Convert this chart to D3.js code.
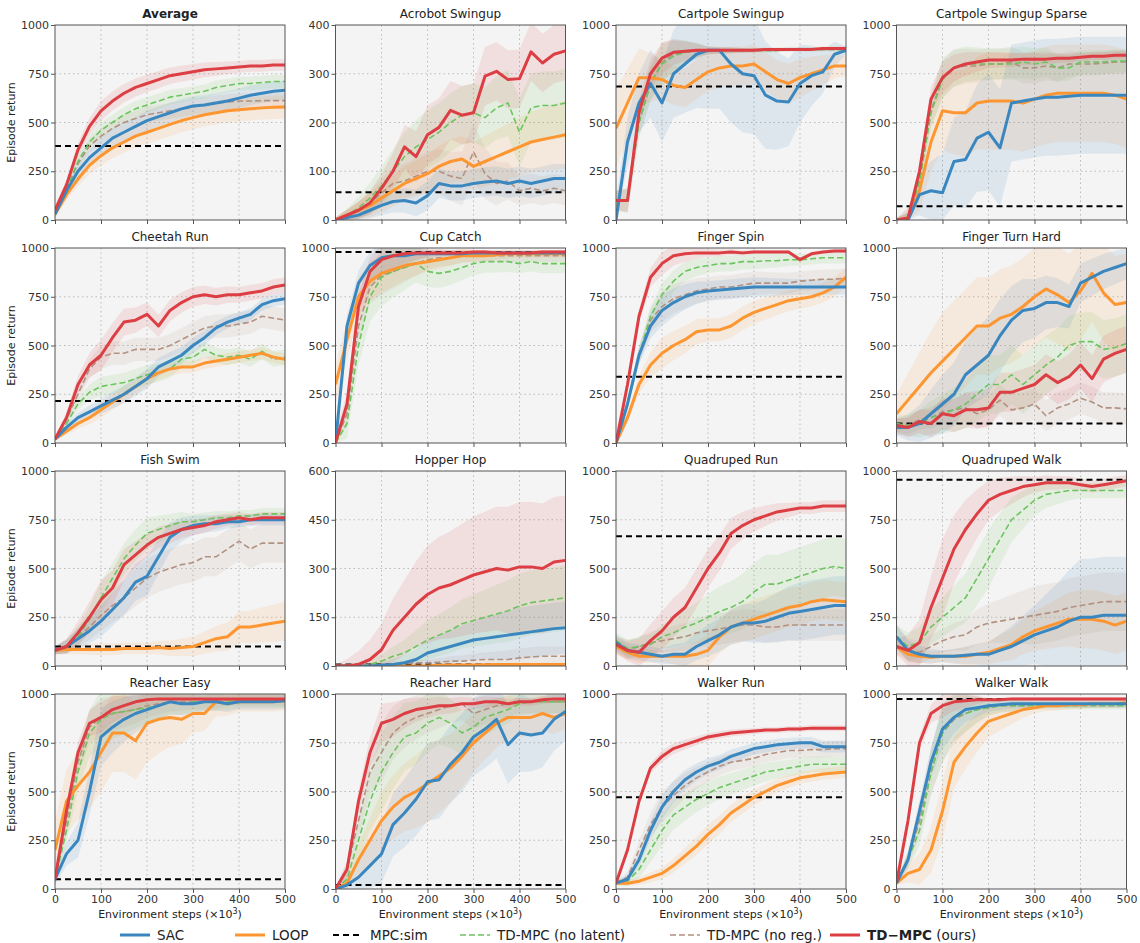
<!DOCTYPE html>
<html><head><meta charset="utf-8">
<script src="https://cdn.jsdelivr.net/npm/d3@7"></script>
<style>body{margin:0;background:#fff;font-family:"DejaVu Sans",sans-serif;}</style>
</head><body><svg id="chart" width="1140" height="943"></svg>
<script>
// x positions (x10^3 steps)
const steps = d3.range(0, 501, 25);
const spreadSteps = [0, 100, 200, 300, 400, 500];

const titles = ["Average","Acrobot Swingup","Cartpole Swingup","Cartpole Swingup Sparse",
  "Cheetah Run","Cup Catch","Finger Spin","Finger Turn Hard",
  "Fish Swim","Hopper Hop","Quadruped Run","Quadruped Walk",
  "Reacher Easy","Reacher Hard","Walker Run","Walker Walk"];
const yMax = [1000,400,1000,1000, 1000,1000,1000,1000, 1000,600,1000,1000, 1000,1000,1000,1000];
const yStep = [250,100,250,250, 250,250,250,250, 250,150,250,250, 250,250,250,250];
const mpcSim = [380,57,685,70, 215,980,340,100, 100,5,665,955, 50,20,470,975];

const seriesNames = ["SAC","LOOP","TD-MPC (no latent)","TD-MPC (no reg.)","TD-MPC"];

// mean curves, per panel: [SAC, LOOP, noLatent, noReg, TD-MPC]
const sac = [
 [30,150,250,320,370,420,450,480,510,530,550,570,585,590,600,610,625,640,650,660,665],
 [0,5,10,20,30,38,40,35,50,75,70,70,75,78,80,75,80,75,80,85,85],
 [0,400,600,700,600,750,800,850,870,870,800,750,740,640,610,605,700,740,760,850,870],
 [0,0,130,150,140,300,310,420,450,370,600,610,620,630,630,635,640,640,640,640,640],
 [20,80,130,160,190,220,250,290,330,390,420,450,500,540,590,620,640,660,710,730,740],
 [0,600,820,910,950,960,960,970,970,970,970,970,975,975,975,975,975,975,975,975,975],
 [0,200,450,600,680,720,750,770,780,785,790,795,800,800,800,800,800,800,800,800,800],
 [80,80,100,150,200,250,350,400,450,550,630,680,690,720,720,700,820,850,880,900,920],
 [80,100,140,180,230,290,350,430,460,560,660,700,720,730,730,740,740,750,750,750,750],
 [0,0,0,0,2,5,10,20,40,50,60,70,80,85,90,95,100,105,110,115,118],
 [120,80,70,60,50,60,60,100,130,160,200,220,220,230,250,270,280,290,300,310,310],
 [150,80,60,50,50,50,55,60,60,80,100,130,160,180,200,230,250,250,260,260,260],
 [50,180,250,500,780,830,870,900,920,940,960,950,950,960,960,950,960,960,960,960,965],
 [0,20,60,120,180,330,390,460,550,560,640,700,780,820,870,740,800,790,800,870,910],
 [30,50,150,300,420,500,560,600,630,650,680,700,720,730,740,745,750,750,730,730,730],
 [30,150,400,650,820,880,920,930,940,945,950,950,950,950,950,950,950,950,950,950,950]];
const loop = [
 [30,130,210,280,330,370,400,430,450,470,490,510,525,540,550,560,565,570,575,578,580],
 [0,10,20,30,45,60,75,85,95,110,120,125,110,120,130,140,150,160,165,170,175],
 [470,600,730,730,720,690,680,720,760,780,790,790,800,760,720,700,730,750,770,790,790],
 [0,10,150,400,560,550,550,600,610,610,610,600,620,640,650,650,650,650,650,640,620],
 [20,60,100,130,170,210,250,290,330,360,380,390,390,410,420,430,440,450,460,440,430],
 [300,530,750,830,870,890,910,920,930,940,950,960,960,960,965,970,970,970,970,970,970],
 [0,130,300,400,460,500,530,570,580,580,600,640,670,690,710,730,740,750,770,800,850],
 [150,220,290,360,420,480,540,600,600,640,660,700,750,790,760,720,780,870,770,710,720],
 [80,85,85,85,85,85,90,90,90,95,90,95,100,120,140,150,200,200,210,220,230],
 [0,0,0,0,0,0,0,0,0,2,3,3,3,4,5,5,5,5,5,5,5],
 [100,70,50,50,50,50,50,60,80,150,200,220,240,260,280,300,310,330,340,335,330],
 [100,60,50,45,50,50,50,60,70,90,110,150,180,200,220,240,240,240,230,210,230],
 [200,450,530,600,700,800,800,760,850,870,880,870,900,900,960,950,960,960,960,960,965],
 [0,30,150,250,350,420,470,500,540,580,620,680,750,800,850,880,880,880,900,880,900],
 [30,30,40,60,80,120,170,220,280,330,390,430,470,500,530,550,570,580,590,595,600],
 [30,80,100,200,400,650,730,800,860,880,900,920,930,940,940,945,945,950,950,950,955]];
const noLatent = [
 [30,160,300,400,460,500,540,570,590,610,630,640,650,660,680,690,700,700,705,710,710],
 [0,10,25,45,70,100,130,150,165,180,200,215,220,210,230,240,180,230,235,235,240],
 [100,100,500,700,800,840,860,870,870,870,870,870,870,870,870,875,875,875,875,875,875],
 [0,5,200,550,720,780,800,800,800,800,800,810,800,810,780,780,810,810,810,815,815],
 [20,100,200,260,290,300,310,330,350,360,380,430,440,480,450,440,450,430,470,430,440],
 [0,100,500,750,850,880,900,920,880,870,880,900,920,930,930,930,920,930,920,920,920],
 [0,200,450,650,760,830,880,900,910,920,920,930,930,935,935,940,940,945,950,950,950],
 [100,90,100,130,150,170,200,250,300,300,350,300,350,400,440,500,520,520,480,490,510],
 [80,100,150,240,350,450,550,620,680,700,720,740,740,750,760,760,770,770,780,780,780],
 [0,0,0,5,15,30,40,60,80,95,110,130,140,150,160,170,185,195,200,205,210],
 [130,90,100,110,150,170,200,220,250,280,300,330,380,420,420,440,460,480,500,510,500],
 [150,100,120,200,250,300,350,450,550,650,750,800,850,880,890,900,900,900,900,900,900],
 [50,300,600,800,870,900,910,920,930,940,960,950,960,960,960,960,970,970,970,970,970],
 [0,50,250,450,600,700,780,800,850,880,850,800,830,880,900,920,950,960,960,960,960],
 [30,40,100,200,300,380,420,460,490,520,540,560,580,600,610,620,630,640,640,640,640],
 [30,150,300,600,800,880,900,920,930,940,940,940,940,940,940,940,940,940,940,940,940]];
const noReg = [
 [30,160,290,380,430,470,500,520,540,550,560,570,580,590,600,605,610,610,612,612,612],
 [0,10,20,35,55,75,80,90,100,100,90,85,140,95,75,80,60,65,60,65,60],
 [100,100,500,700,810,850,860,865,870,870,870,870,870,870,870,875,875,875,875,875,875],
 [0,5,200,560,730,780,790,790,800,800,810,780,780,790,780,800,800,800,805,810,810],
 [20,120,250,380,440,460,460,480,480,480,500,530,560,590,600,600,610,620,650,640,630],
 [0,150,600,800,860,880,900,920,940,950,950,960,960,960,960,960,960,960,960,960,960],
 [0,200,450,630,700,740,760,780,790,800,800,810,820,820,820,820,830,835,840,840,845],
 [80,90,120,130,160,170,180,150,170,220,170,180,200,140,180,200,230,210,180,180,175],
 [80,100,150,200,260,310,350,400,450,480,500,520,530,560,560,600,640,600,630,630,630],
 [0,0,0,2,5,5,8,10,10,12,15,15,18,20,20,20,25,28,30,30,30],
 [100,80,100,120,130,140,150,170,180,190,200,210,210,200,200,210,210,210,210,210,210],
 [150,80,70,100,130,150,160,200,220,230,240,250,260,270,280,300,310,320,330,330,330],
 [50,350,650,830,880,900,910,920,940,950,960,960,960,960,960,970,970,970,970,970,970],
 [0,100,350,600,700,800,850,880,900,920,940,950,900,920,940,950,960,960,960,960,960],
 [30,60,200,330,420,480,530,570,600,630,650,660,670,690,700,710,710,715,715,720,720],
 [30,150,350,600,800,870,900,920,930,940,940,940,945,950,950,950,950,950,950,950,950]];
const tdmpc = [
 [50,180,360,480,560,610,650,680,700,720,740,750,760,770,775,780,785,790,790,795,795],
 [0,10,20,35,65,100,150,130,175,190,225,215,220,295,305,288,290,345,322,340,347],
 [100,100,550,750,830,860,865,870,870,870,870,870,870,875,875,875,875,875,880,880,880],
 [0,10,250,620,730,780,800,810,820,820,820,825,825,825,830,830,835,840,840,845,845],
 [20,130,300,400,450,540,620,630,660,600,680,720,750,760,750,760,760,770,780,800,810],
 [0,200,700,880,940,960,970,975,975,975,975,975,980,980,975,975,975,975,980,980,980],
 [0,300,650,850,920,960,970,975,975,975,980,975,980,980,980,980,940,970,980,985,985],
 [90,80,110,100,150,140,170,170,180,260,260,280,300,350,310,340,400,330,430,460,480],
 [80,100,170,250,340,400,520,570,620,660,680,700,710,720,740,750,760,750,760,760,760],
 [0,0,5,20,50,110,150,190,220,240,250,265,280,290,300,295,305,305,300,320,325],
 [110,80,70,130,180,250,300,400,500,580,680,720,750,770,790,800,810,810,820,820,820],
 [100,80,120,300,450,600,700,780,850,880,900,920,930,940,940,940,930,920,930,940,950],
 [50,400,700,850,880,920,940,960,970,975,975,975,975,975,975,975,975,975,975,975,975],
 [0,100,450,700,850,870,900,920,930,940,940,950,950,960,960,950,960,960,970,975,975],
 [30,200,450,620,680,720,740,760,780,790,800,805,810,815,815,820,820,825,825,825,825],
 [30,350,750,900,940,960,965,970,970,970,975,975,975,975,975,975,975,975,975,975,975]];

// band half-widths at 0,100,...,500 per panel: [SAC, LOOP, noLatent, noReg, TD-MPC]
const spreads = [
 [[20,50,50,50,50,50],[20,50,60,60,60,60],[20,40,40,35,35,35],[20,40,40,40,40,40],[20,50,45,40,30,30]],
 [[5,20,30,30,30,30],[5,30,40,50,60,70],[5,40,60,60,70,70],[5,30,40,60,30,30],[5,30,60,60,60,60]],
 [[100,200,300,300,200,20],[200,100,100,100,100,50],[50,100,20,10,10,10],[50,100,20,10,10,10],[50,80,20,10,10,10]],
 [[10,200,300,300,300,300],[10,200,250,250,250,250],[10,100,80,80,60,60],[10,100,80,80,60,60],[10,80,40,30,20,20]],
 [[10,40,50,40,30,30],[10,40,40,30,30,30],[10,50,50,40,40,40],[10,60,60,60,60,60],[10,80,60,50,40,40]],
 [[50,80,20,10,10,10],[100,100,50,30,20,20],[50,150,80,60,50,50],[50,100,50,30,30,30],[50,80,20,10,10,10]],
 [[10,80,50,50,40,40],[10,80,60,60,50,50],[10,60,40,40,30,30],[10,80,60,60,50,50],[10,60,20,10,10,10]],
 [[40,150,200,150,100,80],[100,250,250,250,250,250],[40,100,150,150,150,150],[40,60,80,80,80,80],[40,80,100,100,120,120]],
 [[20,80,100,50,30,30],[20,30,30,50,80,100],[20,80,80,40,30,30],[20,80,100,100,100,100],[20,100,60,40,30,30]],
 [[2,10,40,60,80,80],[2,2,3,5,5,5],[2,20,60,80,100,100],[2,5,10,20,30,30],[2,80,150,180,200,200]],
 [[40,40,80,100,150,150],[40,30,80,100,100,100],[40,60,120,150,150,150],[40,60,80,80,80,80],[40,100,100,60,30,30]],
 [[60,30,60,150,300,300],[40,30,60,100,150,150],[60,100,150,80,40,40],[60,60,100,150,150,150],[40,200,100,40,30,30]],
 [[30,150,80,50,40,40],[150,200,200,100,50,50],[30,150,80,50,40,40],[30,100,60,40,30,30],[30,80,30,20,20,20]],
 [[10,150,200,200,200,150],[10,150,200,150,100,80],[10,200,150,100,60,60],[10,150,100,80,60,60],[10,100,50,30,20,20]],
 [[10,60,40,30,30,30],[10,30,50,40,30,30],[10,80,60,50,40,40],[10,80,50,40,40,40],[10,30,20,15,15,15]],
 [[10,100,30,20,20,20],[10,150,80,30,20,20],[10,150,40,20,20,20],[10,150,40,20,20,20],[10,60,10,10,10,10]]];

const allSeries = [sac, loop, noLatent, noReg, tdmpc];
const colors = ["#3a87c0","#fd9630","#6cc45e","#b39180","#dc3e44"];
const widths = [3, 3, 1.6, 1.6, 3];
const dashes = [null, null, "6,3", "6,3", null];
const drawOrder = [3, 2, 1, 0, 4];

const svg = d3.select("#chart");
const lefts = [55, 335.5, 616, 896.5], tops = [25, 248, 471, 694];
const W = 230, H = 195;

titles.forEach((title, p) => {
  const col = p % 4, row = Math.floor(p / 4);
  const g = svg.append("g").attr("transform", `translate(${lefts[col]},${tops[row]})`);
  const x = d3.scaleLinear().domain([0, 500]).range([0, W]);
  const y = d3.scaleLinear().domain([0, yMax[p]]).range([H, 0]);
  const yTicks = d3.range(0, yMax[p] + 1, yStep[p]);

  g.append("rect").attr("width", W).attr("height", H).attr("fill", "#f4f4f4");
  g.selectAll(".gx").data([100,200,300,400]).join("line")
    .attr("x1", d => x(d)).attr("x2", d => x(d)).attr("y1", 0).attr("y2", H)
    .attr("stroke", "#bbb").attr("stroke-dasharray", "1.5,3");
  g.selectAll(".gy").data(yTicks.slice(1, -1)).join("line")
    .attr("y1", d => y(d)).attr("y2", d => y(d)).attr("x1", 0).attr("x2", W)
    .attr("stroke", "#bbb").attr("stroke-dasharray", "1.5,3");

  const clip = "clip" + p;
  g.append("clipPath").attr("id", clip).append("rect").attr("width", W).attr("height", H);
  const plot = g.append("g").attr("clip-path", `url(#${clip})`);

  // bands
  drawOrder.forEach(s => {
    const sp = d3.scaleLinear().domain(spreadSteps).range(spreads[p][s]);
    const vals = allSeries[s][p];
    const area = d3.area().x((d, i) => x(steps[i]))
      .y0((d, i) => y(Math.max(0, d - sp(steps[i]))))
      .y1((d, i) => y(d + sp(steps[i])));
    plot.append("path").attr("d", area(vals)).attr("fill", colors[s]).attr("opacity", 0.12);
  });
  // mpc
  plot.append("line").attr("x1", 0).attr("x2", W).attr("y1", y(mpcSim[p])).attr("y2", y(mpcSim[p]))
    .attr("stroke", "#000").attr("stroke-width", 2).attr("stroke-dasharray", "6,4");
  // lines
  drawOrder.forEach(s => {
    const line = d3.line().x((d, i) => x(steps[i])).y(d => y(d));
    plot.append("path").attr("d", line(allSeries[s][p])).attr("fill", "none")
      .attr("stroke", colors[s]).attr("stroke-width", widths[s])
      .attr("stroke-dasharray", dashes[s]).attr("stroke-linejoin", "round");
  });

  g.append("rect").attr("width", W).attr("height", H).attr("fill", "none").attr("stroke", "#555").attr("stroke-width", 1);

  const ya = g.append("g").call(d3.axisLeft(y).tickValues(yTicks).tickSize(4).tickPadding(2).tickFormat(d3.format("d")));
  const xa = g.append("g").attr("transform", `translate(0,${H})`)
    .call(d3.axisBottom(x).tickValues([0,100,200,300,400,500]).tickSize(4).tickPadding(2)
      .tickFormat(row === 3 ? d3.format("d") : ""));
  [ya, xa].forEach(a => {
    a.select(".domain").remove();
    a.selectAll("text").attr("fill", "#333").style("font-size", "11px").style("font-family", "DejaVu Sans");
    a.selectAll("line").attr("stroke", "#555");
  });

  g.append("text").attr("x", W / 2).attr("y", -7).attr("text-anchor", "middle")
    .style("font-size", "12px").style("font-weight", p === 0 ? "bold" : "normal").attr("fill", "#222").text(title);
  if (col === 0) {
    g.append("text").attr("transform", `translate(-40,${H / 2}) rotate(-90)`).attr("text-anchor", "middle")
      .style("font-size", "11px").attr("fill", "#222").text("Episode return");
  }
  if (row === 3) {
    const t = g.append("text").attr("x", W / 2).attr("y", H + 29).attr("text-anchor", "middle")
      .style("font-size", "11px").attr("fill", "#222");
    t.append("tspan").text("Environment steps (×10");
    t.append("tspan").attr("dy", -4).style("font-size", "8px").text("3");
    t.append("tspan").attr("dy", 4).text(")");
  }
});

// legend
const legend = [
  {x: 120, c: colors[0], w: 3, d: null, label: "SAC"},
  {x: 235, c: colors[1], w: 3, d: null, label: "LOOP"},
  {x: 333, c: "#000", w: 2, d: "6,4", label: "MPC:sim"},
  {x: 460, c: colors[2], w: 1.6, d: "6,3", label: "TD-MPC (no latent)"},
  {x: 670, c: colors[3], w: 1.6, d: "6,3", label: "TD-MPC (no reg.)"},
  {x: 830, c: colors[4], w: 3, d: null, label: null}
];
const lg = svg.append("g").attr("transform", "translate(0,935)");
legend.forEach(it => {
  lg.append("line").attr("x1", it.x).attr("x2", it.x + 30).attr("stroke", it.c)
    .attr("stroke-width", it.w).attr("stroke-dasharray", it.d);
  const t = lg.append("text").attr("x", it.x + 37).attr("y", 5).style("font-size", "13.5px").attr("fill", "#222");
  if (it.label) t.text(it.label);
  else { t.append("tspan").style("font-weight", "bold").text("TD\u2212MPC"); t.append("tspan").text(" (ours)"); }
});
</script></body></html>
